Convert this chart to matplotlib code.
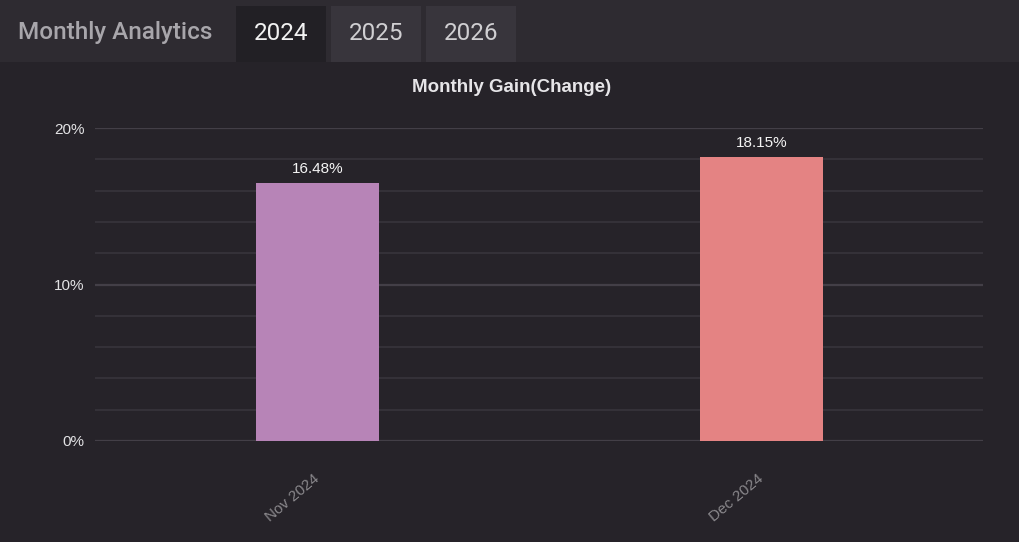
import matplotlib.pyplot as plt
from matplotlib.patches import Rectangle
from matplotlib.ticker import MultipleLocator, FuncFormatter

# chart data
months = ['Nov 2024', 'Dec 2024']
gains = [16.48, 18.15]
bar_colors = ['#b784b7', '#e48383']
tabs = ['2024', '2025', '2026']

W, H = 1020, 542
fig = plt.figure(figsize=(W / 100, H / 100), dpi=100)
fig.patch.set_facecolor('#262329')


def px_rect(x0, y0, x1, y1, color):
    # rectangle in pixel coordinates measured from the top-left corner
    fig.add_artist(Rectangle((x0 / W, 1 - y1 / H), (x1 - x0) / W, (y1 - y0) / H,
                             transform=fig.transFigure, facecolor=color,
                             edgecolor='none', zorder=0))


# header bar with tabs
px_rect(0, 0, W, 62, '#2e2b31')
px_rect(236, 6, 326, 62, '#222025')
px_rect(331, 6, 421, 62, '#38353c')
px_rect(426, 6, 516, 62, '#38353c')
fig.text(18 / W, 1 - 33 / H, 'Monthly Analytics', family='Roboto', fontsize=17.5,
         fontweight='medium', color='#a8a6ab', va='center', ha='left')
tab_centers = [281, 376, 471]
tab_colors = ['#f2f2f2', '#d0cfd2', '#d0cfd2']
for label, cx, c in zip(tabs, tab_centers, tab_colors):
    fig.text(cx / W, 1 - 33 / H, label, family='Roboto', fontsize=17.5,
             color=c, va='center', ha='center')

fig.text(512 / W, 1 - 88 / H, 'Monthly Gain(Change)', family='Liberation Sans',
         fontsize=13.5, fontweight='bold', color='#e6e5e8', ha='center', va='center')

# plot area
ax = fig.add_axes([95.5 / W, 1 - 441 / H, (983.5 - 95.5) / W, (441 - 128) / H])
ax.set_facecolor('none')
x = list(range(len(months)))
bars = ax.bar(x, gains, width=0.277, color=bar_colors, zorder=3)
for b, v in zip(bars, gains):
    ax.text(b.get_x() + b.get_width() / 2, v + 0.45, f'{v:.2f}%',
            ha='center', va='bottom', color='#f4f4f4', fontsize=11,
            family='Liberation Sans', zorder=4)

ax.set_xlim(-0.5, 1.5)
ax.set_ylim(0, 20)
ax.yaxis.set_major_locator(MultipleLocator(10))
ax.yaxis.set_minor_locator(MultipleLocator(2))
ax.yaxis.set_major_formatter(FuncFormatter(lambda v, p: f'{v:.0f}%'))
ax.grid(axis='y', which='major', color='#433f47', linewidth=1.6, zorder=0)
ax.grid(axis='y', which='minor', color='#36333a', linewidth=1.3, zorder=0)
ax.set_axisbelow(True)
for s in ax.spines.values():
    s.set_visible(False)

ax.set_xticks(x)
ax.set_xticklabels(months, rotation=40, ha='right', va='center',
                   rotation_mode='anchor', color='#8a888c', fontsize=11,
                   family='Liberation Sans')
ax.tick_params(axis='x', length=0, pad=26)
ax.tick_params(axis='y', which='both', length=0, pad=8, labelcolor='#e2e2e4',
               labelsize=11)
for t in ax.get_yticklabels():
    t.set_family('Liberation Sans')

fig.savefig('out.png', dpi=100, facecolor=fig.get_facecolor())
